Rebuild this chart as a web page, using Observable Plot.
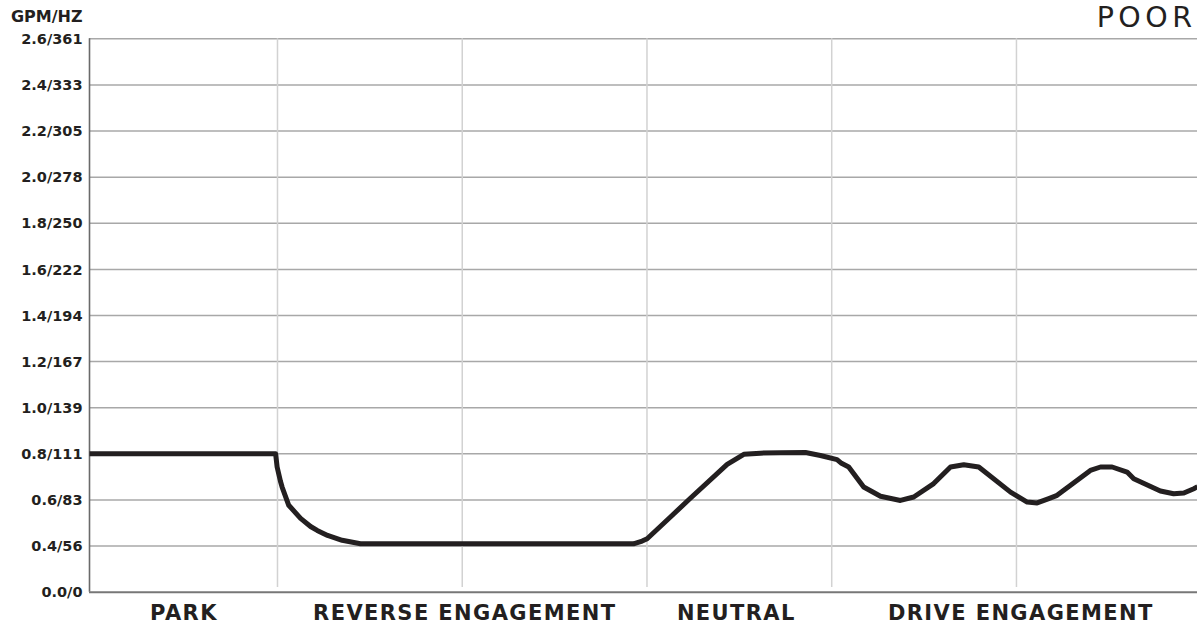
<!DOCTYPE html>
<html>
<head>
<meta charset="utf-8">
<script src="https://cdn.jsdelivr.net/npm/d3@7"></script>
<script src="https://cdn.jsdelivr.net/npm/@observablehq/plot@0.6"></script>
<style>
  html, body { margin: 0; padding: 0; background: #fff; }
  #chart svg { display: block; }
</style>
</head>
<body>
<div id="chart"></div>
<script>
// ---- Data ----
const yTitle = "GPM/HZ";
const rating = "POOR";
const yTicks = [0, 0.4, 0.6, 0.8, 1.0, 1.2, 1.4, 1.6, 1.8, 2.0, 2.2, 2.4, 2.6];
const yTickLabels = ["0.0/0", "0.4/56", "0.6/83", "0.8/111", "1.0/139", "1.2/167", "1.4/194",
  "1.6/222", "1.8/250", "2.0/278", "2.2/305", "2.4/333", "2.6/361"];
const phases = ["PARK", "REVERSE ENGAGEMENT", "NEUTRAL", "DRIVE ENGAGEMENT"];
const phaseCenters = [49, 201, 348, 502];
const gridX = [100, 200, 300, 400, 500];
const time = [-1.76, 99, 99.8, 101.6, 102.5, 106.1, 112.5, 117.9, 121.5, 127.1, 135, 144.9,
  292.7, 297.4, 300.1, 312.7, 322.6, 343.4, 352.4, 361.4, 372.3, 385.8, 393.9, 402.9, 405.3,
  409.2, 417.3, 426.4, 437.2, 444.4, 455.2, 464.3, 471.5, 479.6, 496.8, 505.8, 511.2, 517.5,
  522, 540, 545.5, 551.8, 559.9, 563.5, 577.9, 585.1, 590.6, 596, 598];
const flow = [0.80, 0.80, 0.743, 0.681, 0.656, 0.577, 0.52, 0.485, 0.468, 0.446, 0.425, 0.41,
  0.41, 0.422, 0.432, 0.526, 0.601, 0.754, 0.798, 0.803, 0.805, 0.806, 0.793, 0.775, 0.759,
  0.743, 0.656, 0.616, 0.598, 0.613, 0.671, 0.743, 0.753, 0.743, 0.634, 0.591, 0.587, 0.606,
  0.620, 0.728, 0.743, 0.743, 0.721, 0.692, 0.639, 0.627, 0.630, 0.649, 0.657];

// ---- Layout ----
const W = 1197, H = 625;
const mTop = 38.3, mBottom = 33.3, mLeft = 89, mRight = 0;
const bottom = H - mBottom;
const step = (bottom - mTop) / (yTicks.length - 1);
const xMin = -1.76, xMax = 598;

const series = time.map((t, i) => ({t, v: flow[i]}));
const tickData = yTicks.map((v, i) => ({v, label: yTickLabels[i]}));
const phaseData = phases.map((p, i) => ({p, x: phaseCenters[i]}));

const font = "DejaVu Sans, Liberation Sans, sans-serif";

const chart = Plot.plot({
  width: W,
  height: H,
  marginTop: mTop,
  marginBottom: mBottom,
  marginLeft: mLeft,
  marginRight: mRight,
  style: {background: "#fff", fontFamily: font, overflow: "visible"},
  x: {domain: [xMin, xMax], axis: null},
  y: {type: "linear", domain: [0, 0.4, 2.6], range: [bottom, bottom - step, mTop], axis: null},
  marks: [
    Plot.ruleY(yTicks.filter(d => d > 0), {stroke: "#a8a8a8", strokeWidth: 1.5}),
    Plot.ruleX(gridX, {y1: 0.04, y2: 2.6, stroke: "#d2d2d2", strokeWidth: 1.5}),
    Plot.ruleX([xMin], {y1: 0, y2: 2.6, stroke: "#6a6a6a", strokeWidth: 1.6}),
    Plot.ruleY([0], {stroke: "#777", strokeWidth: 2}),
    Plot.line(series, {x: "t", y: "v", stroke: "#231f20", strokeWidth: 5, strokeLinejoin: "round", strokeLinecap: "butt"}),
    Plot.text(tickData, {x: xMin, y: "v", text: "label", textAnchor: "end", dx: -7, dy: 0.5,
      fontFamily: font, fontWeight: "bold", fontSize: 14.5, fill: "#231f20"}),
    Plot.text(phaseData, {x: "x", text: "p", frameAnchor: "bottom", lineAnchor: "bottom", dy: 28, dx: 0.7,
      fontFamily: font, fontWeight: "bold", fontSize: 21, fill: "#231f20"}),
    Plot.text([yTitle], {frameAnchor: "top-left", textAnchor: "end", lineAnchor: "bottom", dx: -7, dy: -17.3,
      fontFamily: font, fontWeight: "bold", fontSize: 16, fill: "#231f20"}),
    Plot.text([rating], {frameAnchor: "top-right", textAnchor: "end", lineAnchor: "bottom", dx: -1, dy: -12.3,
      fontFamily: font, fontWeight: "normal", fontSize: 28.5, fill: "#231f20"})
  ]
});
// letter spacing for the wide display type (phase labels and rating)
const textGroups = d3.select(chart).selectAll("g[aria-label='text']").nodes();
d3.select(textGroups[1]).attr("letter-spacing", "1.4px");
d3.select(textGroups[3]).attr("letter-spacing", "4.5px");
document.getElementById("chart").appendChild(chart);
</script>
</body>
</html>
